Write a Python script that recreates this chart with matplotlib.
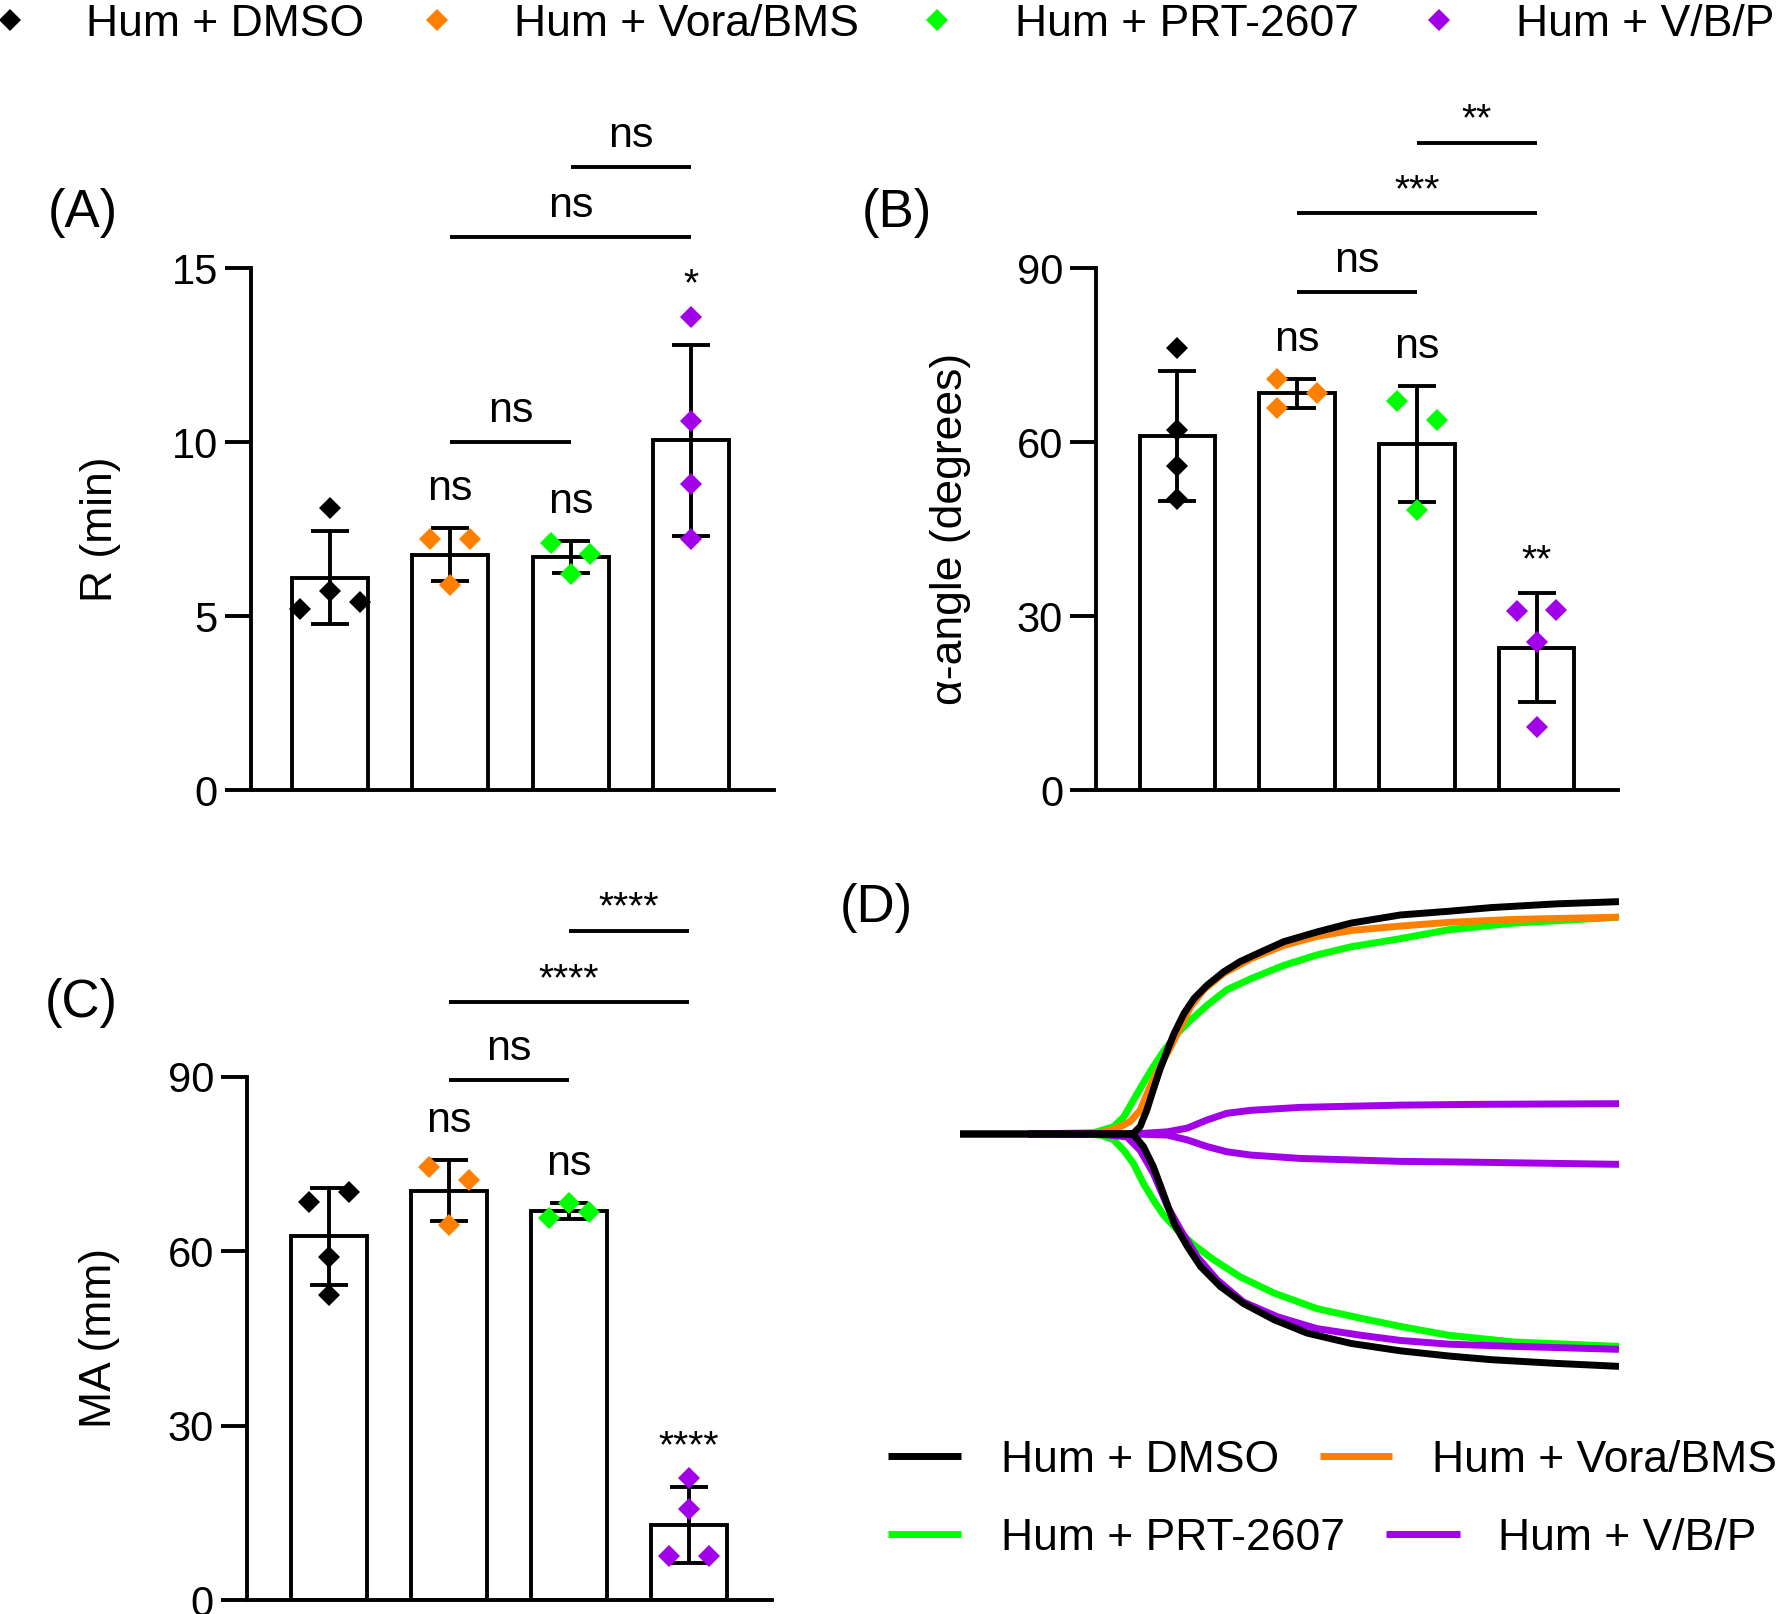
import numpy as np
import matplotlib
matplotlib.use('Agg')
import matplotlib.pyplot as plt
from matplotlib.lines import Line2D

plt.rcParams['font.family'] = ['Liberation Sans', 'DejaVu Sans']

W, H, DPI = 1779, 1614, 100

GROUPS = ['Hum + DMSO', 'Hum + Vora/BMS', 'Hum + PRT-2607', 'Hum + V/B/P']
COLORS = ['#000000', '#FF8000', '#00FF00', '#A100E8']

# (A) R time, min
r_dmso = [8.09, 5.21, 5.72, 5.39]
r_vora = [7.21, 7.21, 5.88]
r_prt = [7.09, 6.79, 6.20]
r_vbp = [13.6, 10.6, 8.78, 7.21]

# (B) alpha angle, degrees
a_dmso = [76.2, 62.0, 55.9, 50.2]
a_vora = [70.8, 68.5, 65.8]
a_prt = [67.0, 63.8, 48.3]
a_vbp = [30.8, 31.0, 25.5, 10.9]

# (C) MA, mm
ma_dmso = [68.5, 70.2, 59.1, 52.5]
ma_vora = [74.5, 72.3, 64.6]
ma_prt = [65.7, 68.4, 66.7]
ma_vbp = [21.0, 15.6, 7.5, 7.5]

# significance vs DMSO (above bars) and pairwise brackets (i, j, level, text)
sig_a = ['', 'ns', 'ns', '*']
sig_b = ['', 'ns', 'ns', '**']
sig_c = ['', 'ns', 'ns', '****']
brk_a = [(1, 2, 10.0, 'ns'), (1, 3, 15.9, 'ns'), (2, 3, 17.9, 'ns')]
brk_b = [(1, 2, 85.9, 'ns'), (1, 3, 99.4, '***'), (2, 3, 111.6, '**')]
brk_c = [(1, 2, 89.5, 'ns'), (1, 3, 102.9, '****'), (2, 3, 115.2, '****')]

# (D) TEG tracings: time (min) vs amplitude (mm), upper and lower branch
t_dmso_up = [0, 15.3, 15.8, 16.4, 17.0, 17.6, 18.2, 18.9, 19.5, 20.4, 21.3, 22.5, 24.0, 25.5,
             27.4, 29.5, 32.5, 35.6, 40.1, 44.5, 48.4, 54.3, 60]
up_dmso = [0, 0, 0.1, 1.0, 3.2, 6.0, 8.7, 11.4, 13.6, 16.3, 18.3, 20.1, 21.9, 23.3,
           24.6, 26.0, 27.3, 28.5, 29.6, 30.1, 30.6, 31.1, 31.4]
t_dmso_lo = [0, 15.3, 15.8, 16.7, 17.6, 18.5, 19.5, 20.7, 21.9, 23.7, 25.8, 28.6, 31.6, 35.6,
             40.1, 44.5, 48.4, 54.3, 60]
lo_dmso = [0, 0, -0.1, -1.7, -4.4, -8.0, -12.1, -15.2, -17.9, -20.6, -22.9, -25.1, -26.9, -28.3,
           -29.3, -30.0, -30.5, -31.0, -31.4]

t_vora_up = [6.2, 12.8, 13.7, 14.6, 15.5, 16.4, 17.3, 18.2, 19.2, 20.1, 21.0, 22.2, 24.0, 26.5,
             29.5, 32.5, 35.6, 40.1, 44.5, 50.4, 60]
up_vora = [0, 0.2, 0.5, 1.0, 1.7, 3.2, 6.4, 9.1, 11.8, 14.5, 17.2, 19.5, 21.7, 23.7,
           25.5, 26.7, 27.5, 28.1, 28.6, 29.0, 29.3]
t_vora_lo = [6.2, 13.3, 15.2, 16.4, 17.6, 18.9, 20.1, 21.6, 23.4, 25.8, 28.9, 32.5, 36.5,
             40.1, 44.5, 50.4, 60]
lo_vora = [0, -0.1, -0.4, -2.2, -5.3, -9.8, -13.0, -16.6, -19.7, -22.7, -24.7, -26.3, -27.2,
           -27.9, -28.4, -28.7, -29.1]

t_prt_up = [6.2, 12.0, 12.8, 14.0, 14.9, 15.8, 16.7, 17.6, 18.5, 19.8, 21.0, 22.5, 24.3, 26.5,
            29.5, 32.5, 35.6, 40.1, 44.5, 50.4, 60]
up_prt = [0, 0.1, 0.45, 1.0, 2.3, 4.6, 6.9, 9.1, 11.1, 13.6, 15.4, 17.4, 19.5, 21.0,
          22.8, 24.2, 25.3, 26.4, 27.6, 28.5, 29.3]
t_prt_lo = [6.2, 12.0, 12.8, 14.0, 14.9, 15.8, 16.7, 17.6, 18.5, 19.8, 21.3, 23.1, 25.5, 28.6,
            32.5, 36.5, 40.1, 44.5, 50.4, 60]
lo_prt = [0, -0.05, -0.15, -0.8, -2.2, -4.0, -6.7, -8.9, -10.9, -13.0, -15.0, -17.0, -19.3, -21.5,
          -23.6, -24.9, -26.0, -27.2, -28.1, -28.7]

t_vbp = [6.2, 15.8, 18.9, 20.7, 22.5, 24.3, 26.5, 31.0, 40.1, 46.4, 60]
up_vbp = [0, 0, 0.3, 0.8, 1.9, 2.8, 3.2, 3.6, 3.9, 4.0, 4.1]
lo_vbp = [0, 0, -0.15, -0.8, -1.7, -2.4, -2.85, -3.3, -3.7, -3.8, -4.1]

# horizontal scatter of the dots (in jitter steps)
jit_a = [[0, -1.5, 0, 1.5], [-1, 1, 0], [-1, 1, 0], [0, 0, 0, 0]]
jit_b = [[0, 0, 0, 0], [-1, 1, -1], [-1, 1, 0], [-1, 1, 0, 0]]
jit_c = [[-1, 1, 0, 0], [-1, 1, 0], [-1, 0, 1], [0, 0, -1, 1]]

LW = 2.8
BAR_W = 0.63
JIT = 0.165
MS = 11.5
PT = 72 / DPI   # points per pixel

fig = plt.figure(figsize=(W / DPI, H / DPI), dpi=DPI)


def px_axes(l, t, r, b):
    return fig.add_axes([l / W, 1 - b / H, (r - l) / W, (b - t) / H])


def bar_panel(ax, data, jit, ymax, yticks, ylabel, sig, brackets, xlim, lab_x):
    for i, vals in enumerate(data):
        vals = np.array(vals)
        m = vals.mean()
        sd = vals.std(ddof=1)
        ax.bar(i, m, width=BAR_W, color='white', edgecolor='black', linewidth=LW, zorder=2)
        ax.errorbar(i, m, yerr=sd, color='black', lw=LW, capsize=14, capthick=LW, zorder=3)
        ax.plot(i + np.array(jit[i]) * JIT, vals, 'D', color=COLORS[i], ms=MS, mew=0,
                zorder=4, clip_on=False)
        top = max(m + sd, vals.max())
        if sig[i]:
            if sig[i] == 'ns':
                ax.annotate('ns', (i, top), xytext=(0, 28 * PT), textcoords='offset points',
                            ha='center', va='baseline', fontsize=31, annotation_clip=False)
            else:
                ax.annotate(sig[i], (i, top), xytext=(0, 21 * PT), textcoords='offset points',
                            ha='center', va='baseline', fontsize=28, annotation_clip=False)
    for i, j, lev, txt in brackets:
        ax.plot([i, j], [lev, lev], color='black', lw=LW, clip_on=False, solid_capstyle='butt')
        if txt == 'ns':
            ax.annotate(txt, ((i + j) / 2, lev), xytext=(0, 20 * PT), textcoords='offset points',
                        ha='center', va='baseline', fontsize=31, annotation_clip=False)
        else:
            ax.annotate(txt, ((i + j) / 2, lev), xytext=(0, 12 * PT), textcoords='offset points',
                        ha='center', va='baseline', fontsize=28, annotation_clip=False)
    ax.set_xlim(*xlim)
    ax.set_ylim(0, ymax)
    ax.set_yticks(yticks)
    ax.set_xticks([])
    for s in ['top', 'right']:
        ax.spines[s].set_visible(False)
    for s in ['left', 'bottom']:
        ax.spines[s].set_linewidth(LW)
    ax.tick_params(axis='y', length=26 * PT, width=LW, pad=7 * PT, labelsize=30)
    ax.set_ylabel(ylabel, fontsize=32, va='center')
    ax.yaxis.set_label_coords(lab_x, 0.5)


axA = px_axes(251, 268, 774, 790)
bar_panel(axA, [r_dmso, r_vora, r_prt, r_vbp], jit_a, 15, [0, 5, 10, 15], 'R (min)',
          sig_a, brk_a, (-0.656, 3.69), -0.287)

axB = px_axes(1096, 268, 1618, 790)
bar_panel(axB, [a_dmso, a_vora, a_prt, a_vbp], jit_b, 90, [0, 30, 60, 90], 'α-angle (degrees)',
          sig_b, brk_b, (-0.68, 3.68), -0.278)

axC = px_axes(247, 1077, 772, 1600)
bar_panel(axC, [ma_dmso, ma_vora, ma_prt, ma_vbp], jit_c, 90, [0, 30, 60, 90], 'MA (mm)',
          sig_c, brk_c, (-0.683, 3.69), -0.28)

# (D) tracing
axD = px_axes(960, 875, 1619, 1393)
TLW = 5.0
kw = dict(lw=TLW, solid_capstyle='butt', solid_joinstyle='round')
axD.plot(t_prt_up, up_prt, color=COLORS[2], **kw)
axD.plot(t_prt_lo, lo_prt, color=COLORS[2], **kw)
axD.plot(t_vora_up, up_vora, color=COLORS[1], **kw)
# lower branch of the Vora/BMS trace is drawn in purple in the original figure
axD.plot(t_vora_lo, lo_vora, color=COLORS[3], **kw)
axD.plot(t_vbp, up_vbp, color=COLORS[3], **kw)
axD.plot(t_vbp, lo_vbp, color=COLORS[3], **kw)
axD.plot(t_dmso_up, up_dmso, color=COLORS[0], **kw)
axD.plot(t_dmso_lo, lo_dmso, color=COLORS[0], **kw)
axD.set_xlim(0, 60)
axD.set_ylim(-35, 35)
axD.axis('off')

# panel letters
for txt, x, y in [('(A)', 48, 213), ('(B)', 862, 213), ('(C)', 45, 1003), ('(D)', 840, 908)]:
    fig.text(x / W, 1 - y / H, txt, fontsize=38, ha='left', va='center')

# top legend (dots)
top_marker_x = [10, 437, 937, 1439]
top_text_x = [86, 514, 1015, 1516]
for g, c, mx, tx in zip(GROUPS, COLORS, top_marker_x, top_text_x):
    fig.add_artist(Line2D([mx / W], [1 - 20 / H], marker='D', color=c, ms=MS, mew=0,
                          transform=fig.transFigure))
    fig.text(tx / W, 1 - 36 / H, g, fontsize=32, ha='left', va='baseline')

# legend of panel D (lines)
leg_rows = [(1456, [(888, 961, 1001), (1320, 1392, 1432)]),
            (1534, [(888, 961, 1001), (1386, 1460, 1498)])]
k = 0
for yc, cols in leg_rows:
    for x0, x1, tx in cols:
        fig.add_artist(Line2D([x0 / W, x1 / W], [1 - yc / H, 1 - yc / H], color=COLORS[k],
                              lw=TLW, solid_capstyle='butt', transform=fig.transFigure))
        fig.text(tx / W, 1 - (yc + 16) / H, GROUPS[k], fontsize=32, ha='left', va='baseline')
        k += 1

fig.savefig('out.png', dpi=DPI)
